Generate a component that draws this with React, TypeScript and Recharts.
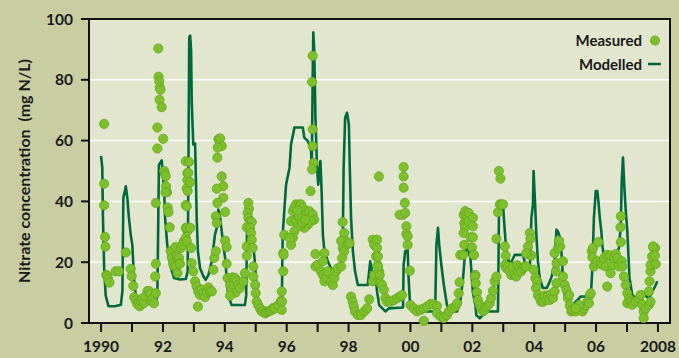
import React from 'react';
import { ComposedChart, Line, Scatter, XAxis, YAxis, CartesianGrid, ReferenceArea } from 'recharts';

// Modelled nitrate concentration [decimal year, mg N/L]
const modelledSeries: [number, number][] = [
  [1990.00, 55], [1990.04, 51], [1990.06, 35], [1990.10, 18], [1990.15, 9], [1990.24, 5.5], [1990.45, 5.5], [1990.64, 6],
  [1990.69, 10.5], [1990.72, 41], [1990.80, 45], [1990.85, 41], [1990.90, 34.6], [1990.96, 29], [1991.01, 25.7], [1991.07, 13.8],
  [1991.12, 9.2], [1991.16, 8], [1991.42, 6.5], [1991.77, 6.2], [1991.82, 9.2], [1991.87, 52], [1991.96, 53.5], [1992.04, 43.5],
  [1992.07, 34.6], [1992.14, 25.7], [1992.20, 21.3], [1992.29, 17], [1992.36, 14.8], [1992.55, 14.3], [1992.74, 14.5], [1992.80, 17],
  [1992.82, 45.5], [1992.85, 94], [1992.88, 94.5], [1992.91, 89.6], [1992.93, 73], [1992.98, 58.7], [1993.04, 59], [1993.07, 45.5],
  [1993.09, 34.6], [1993.13, 23.6], [1993.20, 18], [1993.31, 15.3], [1993.38, 14.2], [1993.47, 15.8], [1993.58, 20.3], [1993.68, 29],
  [1993.74, 31.3], [1993.79, 37.3], [1993.85, 34.6], [1993.90, 30.2], [1993.95, 25.7], [1994.01, 21.4], [1994.06, 14.8], [1994.11, 9.2],
  [1994.22, 5.9], [1994.65, 5.9], [1994.69, 9], [1994.72, 32.3], [1994.76, 39], [1994.82, 34.6], [1994.87, 30.2], [1994.92, 25.7],
  [1994.98, 19], [1995.01, 13.7], [1995.08, 7], [1995.19, 4.8], [1995.84, 4.8], [1995.87, 29], [1995.98, 45.5], [1996.09, 51],
  [1996.14, 58.7], [1996.23, 63.2], [1996.25, 64.3], [1996.52, 64.3], [1996.57, 61], [1996.68, 59.9], [1996.73, 58.7], [1996.79, 56.6],
  [1996.81, 50], [1996.84, 80], [1996.86, 95.6], [1996.89, 89.6], [1996.93, 67.6], [1996.98, 51], [1997.02, 45.5], [1997.09, 53.3],
  [1997.13, 43], [1997.17, 29], [1997.22, 23.6], [1997.33, 20.3], [1997.43, 18], [1997.60, 17], [1997.76, 18], [1997.81, 23.6],
  [1997.84, 51], [1997.89, 67.6], [1997.95, 69.2], [1998.01, 65.4], [1998.04, 51], [1998.08, 34.6], [1998.14, 23.6], [1998.21, 17],
  [1998.30, 12.5], [1998.62, 12.5], [1998.70, 20.3], [1998.78, 16], [1998.89, 13.8], [1998.92, 10.4], [1998.99, 5.9], [1999.19, 3.8],
  [1999.30, 4.8], [1999.76, 5.1], [1999.78, 19], [1999.83, 23.6], [1999.91, 24], [1999.94, 14.8], [1999.99, 5.9], [2000.05, 3.8],
  [2000.80, 3.8], [2000.84, 25.7], [2000.89, 31.3], [2000.93, 25.7], [2001.00, 19], [2001.08, 12.5], [2001.18, 5.9], [2001.29, 3.8],
  [2001.51, 3.8], [2001.61, 7], [2001.70, 14.8], [2001.77, 23.6], [2001.85, 24.7], [2001.94, 21.3], [2002.02, 10], [2002.10, 5.9],
  [2002.13, 2.6], [2002.24, 1.5], [2002.45, 3.8], [2002.83, 3.8], [2002.86, 34.6], [2002.91, 39.5], [2002.99, 39], [2003.05, 30.2],
  [2003.10, 23.6], [2003.21, 19], [2003.32, 21.3], [2003.37, 22.4], [2003.64, 22.4], [2003.69, 20.3], [2003.86, 18], [2003.91, 34.6],
  [2003.96, 39], [2003.98, 50], [2004.03, 39], [2004.07, 29], [2004.12, 20.3], [2004.18, 14.8], [2004.28, 11.5], [2004.41, 11.5],
  [2004.55, 14.8], [2004.66, 19], [2004.72, 30.7], [2004.77, 30], [2004.84, 28], [2004.88, 23.6], [2004.93, 14.8], [2004.99, 9.2],
  [2005.09, 5.9], [2005.20, 4.8], [2005.34, 7], [2005.45, 8.1], [2005.50, 8.7], [2005.83, 8.7], [2005.88, 18], [2005.93, 34.6],
  [2005.99, 43.4], [2006.04, 43.4], [2006.07, 40.7], [2006.12, 34.6], [2006.17, 30.2], [2006.20, 25.7], [2006.26, 21.3], [2006.64, 20.5],
  [2006.69, 23.6], [2006.74, 24.7], [2006.80, 32.4], [2006.83, 46.7], [2006.87, 54.4], [2006.91, 45.5], [2006.96, 36.8], [2007.01, 30.2],
  [2007.04, 23.6], [2007.08, 14.8], [2007.17, 9.2], [2007.28, 8.1], [2007.39, 9.2], [2007.49, 10.3], [2007.58, 9.2], [2007.71, 8.1],
  [2007.82, 10.3], [2007.93, 12.5], [2007.98, 13.7],
];

// Measured nitrate concentration [decimal year, mg N/L]
const measuredSeries: [number, number][] = [
  [1990.10, 65.5], [1990.10, 45.8], [1990.10, 38.7], [1990.13, 28.3], [1990.14, 25.1], [1990.17, 15.8], [1990.20, 15.4], [1990.23, 14.5],
  [1990.27, 13.3], [1990.47, 17], [1990.58, 17], [1990.80, 23.2], [1990.96, 17.8], [1990.99, 15.4], [1991.04, 12.2],
  [1991.07, 8.5], [1991.12, 7.4], [1991.17, 6.2], [1991.22, 6.8], [1991.25, 5.5], [1991.28, 7.4], [1991.33, 8.0], [1991.38, 6.5],
  [1991.44, 8.8], [1991.50, 10.5], [1991.55, 10.5], [1991.60, 9.5], [1991.62, 7.2], [1991.66, 8.0], [1991.71, 6.5], [1991.77, 9.8],
  [1991.75, 15.3], [1991.77, 19.5], [1991.77, 39.5], [1991.82, 57.4], [1991.82, 64.3], [1991.85, 90.3], [1991.86, 81], [1991.88, 79.5],
  [1991.90, 77.5], [1991.92, 76.7], [1991.89, 73.4], [1991.96, 71], [1992.01, 60.6], [1992.04, 50], [1992.07, 49], [1992.09, 48.3],
  [1992.10, 45], [1992.13, 43], [1992.08, 43], [1992.15, 38], [1992.18, 36.5], [1992.22, 31.5],
  [1992.25, 23.6], [1992.29, 21.4], [1992.33, 19.4], [1992.36, 18.6], [1992.40, 25], [1992.43, 18.5], [1992.45, 22], [1992.47, 16.4],
  [1992.52, 21.4], [1992.55, 19.5], [1992.58, 24.7], [1992.63, 25.7], [1992.68, 26.9], [1992.74, 28], [1992.79, 30.2], [1992.74, 31.3],
  [1992.81, 31.3], [1992.74, 53.2], [1992.79, 49.3], [1992.79, 47], [1992.77, 44.3], [1992.74, 38.8],
  [1992.84, 53], [1992.82, 49.4], [1992.88, 46.3], [1992.80, 43.4], [1992.77, 38.4], [1992.77, 31.3], [1992.88, 31.3], [1992.77, 26.9],
  [1992.91, 24.7], [1992.93, 19.7], [1992.98, 17], [1993.04, 13.7], [1993.09, 12], [1993.14, 10.4], [1993.20, 9.2], [1993.25, 11],
  [1993.31, 9.8], [1993.36, 8.5], [1993.42, 10], [1993.47, 11.7], [1993.52, 10.4], [1993.58, 10.4], [1993.13, 5.4],
  [1993.63, 17.5], [1993.66, 21.4], [1993.71, 23.6], [1993.79, 60.4], [1993.85, 60.7], [1993.90, 58.2], [1993.77, 57.7], [1993.76, 54.4],
  [1993.90, 48.2], [1993.95, 45], [1993.74, 44.2], [1993.95, 41.2], [1993.76, 39.5], [1994.01, 36.5], [1993.71, 35.1], [1993.74, 32.9],
  [1994.01, 27.1], [1994.06, 25], [1994.06, 19.5], [1994.09, 14.8], [1994.17, 12.5], [1994.22, 10.9], [1994.25, 15], [1994.28, 12.5],
  [1994.33, 14.8], [1994.35, 10], [1994.39, 13.7], [1994.44, 12.5], [1994.49, 11.5], [1994.60, 13.7], [1994.65, 16.4], [1994.17, 9],
  [1994.71, 25.2], [1994.71, 22.1], [1994.76, 39.5], [1994.78, 37.6], [1994.74, 36.2], [1994.76, 34.6], [1994.82, 33.5], [1994.87, 33.2],
  [1994.71, 31.5], [1994.82, 31.3], [1994.85, 29.6], [1994.87, 27.4], [1994.90, 24.7], [1994.92, 18.6], [1994.92, 15.3], [1994.98, 12.5],
  [1995.00, 9.8], [1995.03, 7], [1995.08, 5.9], [1995.14, 4.8], [1995.19, 3.8], [1995.25, 4], [1995.30, 3.2], [1995.35, 3.5],
  [1995.41, 3.8], [1995.46, 4], [1995.52, 4.3], [1995.57, 5], [1995.62, 4.8], [1995.73, 5.9], [1995.82, 7.3], [1995.84, 10.4],
  [1995.89, 17], [1995.89, 23], [1995.92, 29], [1995.90, 22.4], [1995.85, 7], [1995.84, 4.3],
  [1996.14, 33.5], [1996.20, 36.8], [1996.25, 37.9], [1996.30, 39], [1996.41, 39], [1996.46, 39], [1996.52, 37.9], [1996.57, 36.8],
  [1996.63, 35.7], [1996.73, 36.8], [1996.84, 35.7], [1996.89, 34], [1996.79, 33.5], [1996.68, 32.3], [1996.57, 31.3], [1996.46, 32.3],
  [1996.36, 31.8], [1996.25, 30.2], [1996.20, 28], [1996.14, 25.7], [1996.09, 28], [1996.30, 34], [1996.40, 35], [1996.50, 33],
  [1996.60, 34], [1996.35, 37],
  [1996.87, 52.7], [1996.82, 50.5], [1996.77, 43.4], [1996.84, 58.2], [1996.84, 63.7], [1996.82, 79.3], [1996.84, 87.9],
  [1996.93, 22.7], [1996.93, 18.6], [1997.00, 19.1], [1997.11, 17], [1997.17, 15.8], [1997.22, 13.7], [1997.27, 14.8], [1997.33, 17],
  [1997.43, 13.7], [1997.49, 12.5], [1997.54, 14.8], [1997.60, 17], [1997.65, 18], [1997.76, 18.6], [1997.22, 23], [1997.17, 20.3],
  [1997.81, 33.2], [1997.86, 29.6], [1997.92, 26.9], [1997.76, 27], [1997.81, 24.7], [1997.86, 23.6], [1997.97, 26], [1998.03, 26.3],
  [1997.79, 21.4], [1998.08, 8.7], [1998.13, 7], [1998.17, 5.4], [1998.21, 3.8], [1998.30, 2.6], [1998.40, 2.6], [1998.51, 3.8],
  [1998.60, 4.8], [1998.67, 7.8], [1998.78, 27.4], [1998.83, 25.7], [1998.89, 21.9], [1998.94, 19.1], [1998.89, 14.8], [1998.78, 13.7],
  [1998.83, 15.8], [1998.99, 17], [1998.98, 48.2],
  [1998.92, 27.4], [1998.92, 24.7], [1998.95, 21.9], [1998.95, 18.6], [1999.01, 15.8], [1999.03, 13.1], [1999.08, 12.5], [1999.14, 10.9],
  [1999.19, 8.2], [1999.24, 7], [1999.35, 7], [1999.46, 7.5], [1999.57, 8.2], [1999.67, 8.7], [1999.73, 9.2],
  [1999.78, 51.3], [1999.78, 48.2], [1999.78, 44.5], [1999.82, 39.5], [1999.76, 35.6], [1999.65, 35.6], [1999.83, 36.2], [1999.87, 31.8],
  [1999.87, 29.3], [1999.91, 28.5], [1999.91, 25.7], [1999.98, 17.2],
  [2000.00, 5.9], [2000.11, 4.8], [2000.21, 3.8], [2000.32, 4.3], [2000.43, 4.8], [2000.54, 5.4], [2000.64, 6.2], [2000.75, 6.2],
  [2000.86, 5.6], [2000.43, 0.7], [2000.86, 3.2], [2000.97, 2.1], [2001.08, 1.6], [2001.18, 2.6], [2001.24, 3.8], [2001.34, 4.8],
  [2001.45, 5.4], [2001.51, 6.5], [2001.56, 9.8], [2001.59, 13.4], [2001.61, 22.4],
  [2001.72, 35.6], [2001.77, 36.8], [2001.83, 34.6], [2001.88, 36.2], [2001.74, 32.9], [2001.77, 31.5], [2001.72, 29.6], [2001.94, 28.2],
  [2001.74, 25.7], [2001.99, 24.9], [2001.70, 22.4], [2002.05, 22.4], [2002.10, 15.8], [2001.88, 33.5],
  [2002.02, 34.6], [2002.02, 31.8], [2002.02, 28.2], [2002.05, 22.4], [2002.08, 15.3], [2002.11, 13.1], [2002.15, 10.1], [2002.18, 7.6],
  [2002.24, 5.9], [2002.29, 4.8], [2002.35, 3.8], [2002.40, 4.3], [2002.45, 5.4], [2002.51, 5.9], [2002.56, 6.5], [2002.61, 8.2],
  [2002.67, 10.6], [2002.72, 13.7], [2002.78, 15.3], [2002.78, 27.7], [2002.83, 36.4], [2002.89, 39], [2002.94, 39], [2002.99, 39],
  [2002.86, 50], [2002.91, 47.5],
  [2003.05, 25.2], [2003.08, 22.2], [2003.05, 19.1], [2003.10, 18], [2003.15, 18.6], [2003.21, 17], [2003.26, 15.8], [2003.30, 18.5],
  [2003.37, 15.8], [2003.42, 15.3], [2003.45, 19], [2003.48, 17], [2003.53, 18], [2003.58, 17], [2003.64, 18], [2003.69, 18.6],
  [2003.74, 18.6], [2003.86, 29.6], [2003.88, 27.7], [2003.80, 25.2], [2003.86, 22.4], [2003.91, 22.2], [2003.74, 22.9],
  [2003.98, 17.5], [2004.04, 14.8], [2004.09, 13.7], [2004.06, 11.5], [2004.12, 9.2], [2004.18, 8.2], [2004.23, 7], [2004.29, 7],
  [2004.33, 9], [2004.39, 7.6], [2004.45, 9], [2004.50, 7.6], [2004.55, 9.5], [2004.61, 8.2], [2004.66, 10.4], [2004.72, 13.1],
  [2004.70, 17], [2004.72, 19.7], [2004.66, 23], [2004.77, 24.7], [2004.84, 25.2], [2004.80, 27.1], [2004.93, 20.3], [2004.93, 15.3],
  [2004.99, 12.5], [2005.04, 10.9], [2005.09, 8.2], [2005.15, 5.7], [2005.20, 3.8],
  [2005.13, 9.2], [2005.23, 4.3], [2005.34, 3.8], [2005.45, 4.8], [2005.56, 3.8], [2005.61, 4.8], [2005.67, 5.9], [2005.72, 7],
  [2005.77, 6.5], [2005.80, 9.2], [2005.83, 9.8], [2005.45, 5.9], [2005.34, 4.8],
  [2005.86, 23.6], [2005.90, 24.7], [2005.88, 21.6], [2005.93, 18.6], [2005.99, 19.7], [2006.07, 26.6], [2006.04, 20.3], [2006.15, 19.7],
  [2006.20, 19.1], [2006.26, 21.4], [2006.31, 18.6], [2006.36, 22.4], [2006.42, 21.9], [2006.47, 16.4], [2006.47, 22.2], [2006.53, 19.1],
  [2006.58, 21.4], [2006.64, 22.7], [2006.69, 21.4], [2006.74, 18.6], [2006.80, 26.6], [2006.83, 20.3], [2006.85, 18.6], [2006.90, 15.3],
  [2006.79, 31.5], [2006.80, 35.1], [2006.36, 12],
  [2006.96, 12.5], [2007.01, 9.8], [2007.07, 8], [2007.01, 6.5], [2007.12, 7], [2007.17, 6], [2007.28, 7], [2007.39, 8],
  [2007.44, 9.2], [2007.49, 6], [2007.54, 3.8], [2007.60, 4.8], [2007.71, 6], [2007.76, 7], [2007.54, 1.6],
  [2007.71, 10.4], [2007.73, 13.7], [2007.76, 17], [2007.76, 19.1], [2007.81, 21.9], [2007.86, 24.7], [2007.91, 24.7], [2007.93, 19.4],
  [2007.84, 25.2], [2007.90, 22.2],
];

const yearTicks = [1990, 1991, 1992, 1993, 1994, 1995, 1996, 1997, 1998, 1999, 2000, 2001, 2002, 2003, 2004, 2005, 2006, 2007, 2008];
const yearLabels: Record<number, string> = {
  1990: '1990', 1992: '92', 1994: '94', 1996: '96', 1998: '98', 2000: '00', 2002: '02', 2004: '04', 2006: '06', 2008: '2008',
};
const valueTicks = [0, 20, 40, 60, 80, 100];
const xDomain: [number, number] = [1989.61, 2008.39];

const modelledData = modelledSeries.map(([year, value]) => ({ year, value }));
const measuredData = measuredSeries.map(([year, value]) => ({ year, value }));

const OUTER = '#c9cda2';
const INNER = '#e3e6cf';
const LINE = '#006a3c';
const DOT = '#7cc12b';
const DOT_EDGE = '#64a71a';
const FONT = 'Lato, "Open Sans", sans-serif';

const Dot = (props: any) => {
  const { cx, cy } = props;
  if (cx == null || cy == null) return null;
  return <circle cx={cx} cy={cy} r={4.6} fill={DOT} stroke={DOT_EDGE} strokeWidth={0.8} />;
};

const YLabel = () => (
  <text
    x={23}
    y={171}
    transform="rotate(-90 23 171)"
    textAnchor="middle"
    dominantBaseline="central"
    fontFamily={FONT}
    fontWeight={700}
    fontSize={16}
    fill="#1a1a1a"
  >
    Nitrate concentration&#160;&#160;(mg N/L)
  </text>
);

export default function App() {
  return (
    <div style={{ position: 'absolute', left: 0, top: 0, width: 679, height: 358, background: OUTER }}>
      <ComposedChart width={679} height={358} margin={{ top: 19, right: 9, bottom: 0, left: 0 }}>
        <CartesianGrid horizontal vertical={false} stroke="#ffffff" strokeWidth={1.5} fill={INNER} fillOpacity={1} />
        <XAxis
          type="number"
          dataKey="year"
          domain={xDomain}
          ticks={yearTicks}
          allowDataOverflow
          tickFormatter={(v: number) => yearLabels[v] ?? ''}
          height={35}
          tickSize={9}
          tickMargin={9}
          axisLine={{ stroke: '#111', strokeWidth: 2 }}
          tickLine={{ stroke: '#111', strokeWidth: 2 }}
          tick={{ fill: '#1a1a1a', fontFamily: FONT, fontWeight: 700, fontSize: 15.5 }}
          interval={0}
        />
        <YAxis
          type="number"
          domain={[0, 100]}
          ticks={valueTicks}
          width={89}
          tickSize={8}
          tickMargin={8}
          axisLine={{ stroke: '#111', strokeWidth: 2 }}
          tickLine={{ stroke: '#111', strokeWidth: 2 }}
          tick={{ fill: '#1a1a1a', fontFamily: FONT, fontWeight: 700, fontSize: 15.5 }}
          label={<YLabel />}
        />
        <ReferenceArea x1={xDomain[0]} x2={xDomain[1]} y1={0} y2={100} fill="none" stroke="#111" strokeWidth={2} ifOverflow="visible" />
        <Line
          data={modelledData}
          dataKey="value"
          type="linear"
          stroke={LINE}
          strokeWidth={2.6}
          dot={false}
          activeDot={false}
          isAnimationActive={false}
          strokeLinejoin="round"
        />
        <Scatter data={measuredData} dataKey="value" shape={<Dot />} isAnimationActive={false} />
      </ComposedChart>
      <div style={{ position: 'absolute', left: 0, top: 0, width: 679, height: 358, pointerEvents: 'none' }}>
        <svg width={679} height={358} style={{ position: 'absolute', left: 0, top: 0 }}>
          <text x={642} y={46} textAnchor="end" fontFamily={FONT} fontWeight={700} fontSize={15} fill="#1a1a1a">Measured</text>
          <circle cx={655} cy={40.5} r={4.6} fill={DOT} stroke={DOT_EDGE} strokeWidth={0.8} />
          <text x={642} y={70} textAnchor="end" fontFamily={FONT} fontWeight={700} fontSize={15} fill="#1a1a1a">Modelled</text>
          <line x1={648} x2={661} y1={64} y2={64} stroke={LINE} strokeWidth={2.6} />
        </svg>
      </div>
    </div>
  );
}
